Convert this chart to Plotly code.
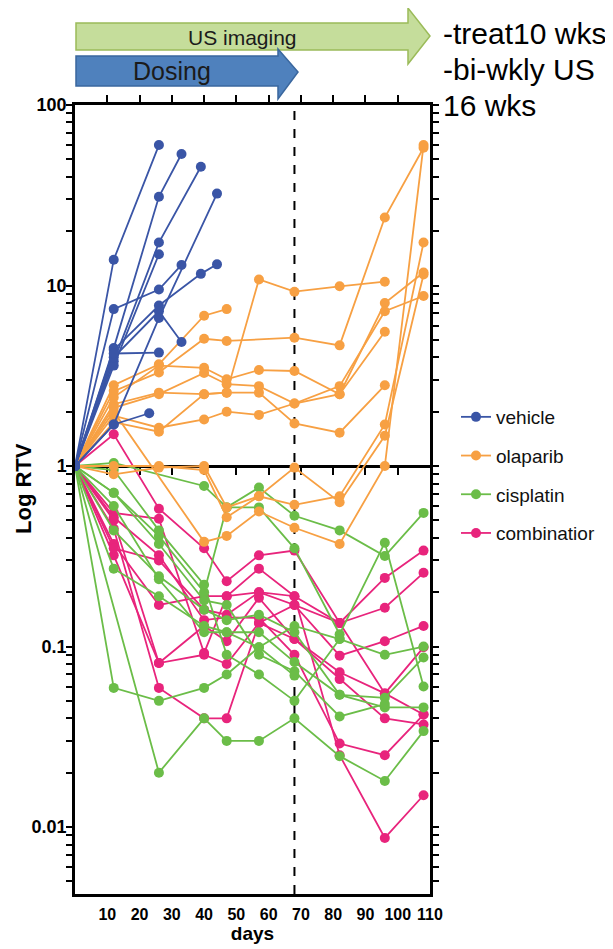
import plotly.graph_objects as go

# ---------------- data ----------------
series_names = ["vehicle", "olaparib", "cisplatin", "combinatior"]
series_colors = ["#3A55A6", "#F7A043", "#6BBD48", "#E8247C"]

vehicle_days = [
    [0, 12, 26], [0, 12, 26, 33], [0, 12, 26, 39], [0, 12, 26],
    [0, 12, 26, 33], [0, 12, 26, 39, 44], [0, 12, 26, 33], [0, 12, 26],
    [0, 12, 23], [0, 12, 26, 44],
]
vehicle_rtv = [
    [1, 13.9, 60], [1, 4.5, 31, 53.5], [1, 3.8, 17.3, 45.5], [1, 3.6, 14.9],
    [1, 7.4, 9.5, 13.0], [1, 4.4, 7.75, 11.6, 13.1], [1, 4.0, 7.2, 4.86], [1, 4.2, 4.25],
    [1, 1.7, 1.96], [1, 1.7, 6.6, 32.3],
]

olaparib_days = [
    [0, 12, 26, 40, 47],
    [0, 12, 26, 40, 47, 68, 82, 96, 108],
    [0, 12, 26, 40, 47, 57, 68, 82, 96, 108],
    [0, 12, 26, 40, 47, 57, 68, 82, 96],
    [0, 12, 26, 40, 47, 57, 68, 82, 96, 108],
    [0, 12, 26, 40, 47, 57, 68, 82, 96],
    [0, 12, 26, 40, 47, 57, 68, 82, 96],
    [0, 12, 26, 40, 47, 57, 68, 82, 96, 108],
    [0, 12, 40, 47, 57, 68, 82, 96, 108],
    [0, 12, 26, 40, 47, 57, 68, 82, 96, 108],
]
olaparib_rtv = [
    [1, 2.8, 3.66, 6.8, 7.4],
    [1, 2.6, 3.3, 5.07, 4.93, 5.14, 4.66, 23.8, 58],
    [1, 2.4, 3.6, 3.5, 3.02, 3.40, 3.36, 2.5, 8.0, 11.8],
    [1, 2.2, 2.55, 2.5, 2.55, 10.8, 9.24, 9.9, 10.5],
    [1, 2.1, 2.5, 3.28, 2.84, 2.77, 2.22, 2.77, 7.2, 8.75],
    [1, 1.9, 1.63, 1.81, 2.0, 1.92, 2.22, 2.5, 5.55],
    [1, 1.75, 1.55, 2.5, 2.55, 2.55, 1.72, 1.53, 2.8],
    [1, 0.9, 0.98, 1.0, 0.59, 0.68, 0.61, 0.68, 1.7, 17.3],
    [1, 2.0, 0.38, 0.41, 0.56, 0.455, 0.37, 1.0, 60],
    [1, 1.0, 1.0, 0.95, 0.52, 0.68, 0.98, 0.63, 1.47, 11.5],
]

cisplatin_days = [
    [0, 12, 40, 47, 57, 68, 82, 96, 108],
    [0, 12, 26, 40, 47, 57, 68, 82, 96, 108],
    [0, 12, 26, 40, 47, 57, 68, 82, 96, 108],
    [0, 26, 40, 47, 57, 68, 82, 96, 108],
    [0, 12, 26, 40, 47, 57, 68, 82, 96, 108],
    [0, 12, 26, 40, 47, 57, 68, 82, 96, 108],
    [0, 12, 26, 40, 47, 57, 68, 82, 96],
    [0, 12, 26, 40, 47, 57, 68, 82],
    [0, 12, 26, 40, 47, 57, 68],
]
cisplatin_rtv = [
    [1, 1.04, 0.775, 0.59, 0.76, 0.53, 0.44, 0.317, 0.55],
    [1, 0.71, 0.41, 0.2, 0.59, 0.59, 0.35, 0.117, 0.376, 0.06],
    [1, 0.059, 0.05, 0.059, 0.07, 0.099, 0.13, 0.11, 0.09, 0.10],
    [1, 0.02, 0.04, 0.03, 0.03, 0.04, 0.0247, 0.018, 0.034],
    [1, 0.27, 0.19, 0.13, 0.12, 0.12, 0.082, 0.054, 0.046, 0.046],
    [1, 0.44, 0.245, 0.16, 0.14, 0.15, 0.12, 0.054, 0.052, 0.087],
    [1, 0.71, 0.37, 0.18, 0.17, 0.09, 0.073, 0.041, 0.048],
    [1, 0.95, 0.44, 0.22, 0.09, 0.07, 0.05, 0.11],
    [1, 0.6, 0.236, 0.12, 0.12, 0.099, 0.069],
]

combination_days = [[0, 12, 26, 40, 47, 57, 68, 82, 96, 108]] * 8
combination_rtv = [
    [1, 1.5, 0.58, 0.35, 0.23, 0.32, 0.34, 0.135, 0.164, 0.256],
    [1, 0.55, 0.51, 0.092, 0.19, 0.27, 0.19, 0.135, 0.24, 0.34],
    [1, 0.37, 0.17, 0.19, 0.19, 0.2, 0.17, 0.089, 0.107, 0.13],
    [1, 0.32, 0.081, 0.13, 0.107, 0.186, 0.11, 0.072, 0.055, 0.042],
    [1, 0.45, 0.059, 0.04, 0.04, 0.135, 0.11, 0.066, 0.04, 0.037],
    [1, 0.52, 0.32, 0.14, 0.145, 0.144, 0.09, 0.029, 0.025, 0.042],
    [1, 0.35, 0.30, 0.16, 0.15, 0.2, 0.19, 0.025, 0.0087, 0.015],
    [1, 0.5, 0.081, 0.09, 0.08, 0.135, 0.17, 0.135, 0.055, 0.099],
]

x_tick_vals = [10, 20, 30, 40, 50, 60, 70, 80, 90, 100, 110]
y_tick_vals = [0.01, 0.1, 1, 10, 100]
y_tick_text = ["0.01", "0.1", "1", "10", "100"]
dosing_end_day = 68
baseline_rtv = 1

# ---------------- figure ----------------
PAGE_OFF = 8                      # default page body margin
W, H = 613 - PAGE_OFF, 949 - PAGE_OFF
L, R, T, B = 75 - PAGE_OFF, 183, 105 - PAGE_OFF, 55
Y_RANGE = [-2.371, 2.0]
FONT = "Liberation Sans, Arial, sans-serif"


def px_x(px):  # page pixel -> paper
    return (px - PAGE_OFF - L) / (W - L - R)


def px_y(py):
    return (H - B - (py - PAGE_OFF)) / (H - T - B)


def flatten(days, vals):
    xs, ys = [], []
    for d, v in zip(days, vals):
        xs += list(d) + [None]
        ys += list(v) + [None]
    return xs, ys


data_sets = {
    "vehicle": (vehicle_days, vehicle_rtv),
    "olaparib": (olaparib_days, olaparib_rtv),
    "cisplatin": (cisplatin_days, cisplatin_rtv),
    "combinatior": (combination_days, combination_rtv),
}

fig = go.Figure()

# invisible helpers so the top axis and the baseline (RTV = 1) axis are drawn
for ax in ["x2", "x3"]:
    fig.add_trace(go.Scatter(x=[0], y=[baseline_rtv], xaxis=ax, yaxis="y", mode="markers",
                             marker=dict(opacity=0), showlegend=False, hoverinfo="skip"))

draw_order = ["combinatior", "cisplatin", "olaparib", "vehicle"]
for name in draw_order:
    i = series_names.index(name)
    xs, ys = flatten(*data_sets[name])
    fig.add_trace(go.Scatter(
        x=xs, y=ys, mode="lines+markers", name=name,
        line=dict(color=series_colors[i], width=1.8),
        marker=dict(color=series_colors[i], size=10, symbol="circle"),
        connectgaps=False, legendgroup=name, legendrank=i + 1,
    ))

minor_vals = []
for dec in [0.001, 0.01, 0.1, 1, 10]:
    minor_vals += [dec * k for k in range(2, 10)]

fig.update_layout(
    width=W, height=H,
    margin=dict(l=L, r=R, t=T, b=B, autoexpand=False),
    paper_bgcolor="white", plot_bgcolor="white",
    showlegend=True,
    legend=dict(
        x=px_x(456), y=px_y(398), xanchor="left", yanchor="top",
        font=dict(family=FONT, size=19, color="#111"),
        traceorder="grouped", tracegroupgap=11, bgcolor="rgba(0,0,0,0)",
        itemwidth=30,
    ),
    xaxis=dict(
        range=[0, 110], showgrid=False, zeroline=False, automargin=False,
        showline=True, linecolor="black", linewidth=2.5, mirror=False,
        ticks="", tickvals=x_tick_vals, ticktext=[str(v) for v in x_tick_vals], tickangle=0,
        tickfont=dict(family=FONT, size=16, color="black", weight="bold"),
        ticklabelstandoff=4,
        title=dict(text="<b>days</b>", font=dict(family=FONT, size=19, color="black"), standoff=2),
    ),
    xaxis2=dict(
        range=[0, 110], overlaying="x", side="top", anchor="y", showgrid=False, zeroline=False,
        showline=True, linecolor="black", linewidth=2.5, automargin=False,
        ticks="outside", ticklen=7, tickwidth=2, tickcolor="black",
        tickvals=x_tick_vals[:-1], showticklabels=False,
    ),
    xaxis3=dict(
        range=[0, 110], overlaying="x", side="bottom", anchor="free",
        position=(0 - Y_RANGE[0]) / (Y_RANGE[1] - Y_RANGE[0]),
        showgrid=False, zeroline=False, automargin=False, layer="below traces",
        showline=True, linecolor="black", linewidth=2.5,
        ticks="outside", ticklen=7, tickwidth=2, tickcolor="black",
        tickvals=x_tick_vals[:-1], showticklabels=False,
    ),
    yaxis=dict(
        type="log", range=Y_RANGE, showgrid=False, zeroline=False, automargin=False,
        showline=True, linecolor="black", linewidth=2.5, mirror="allticks",
        ticks="outside", ticklen=6, tickwidth=2, tickcolor="black",
        tickvals=y_tick_vals, ticktext=y_tick_text,
        tickfont=dict(family=FONT, size=18, color="black", weight="bold"),
        ticklabelstandoff=-4,
        minor=dict(tickvals=minor_vals, ticks="outside", ticklen=4, tickwidth=1.5, tickcolor="black"),
    ),
)

# y-axis title placed like the reference (slightly above the plot centre)
fig.add_annotation(xref="paper", yref="paper", x=px_x(23), y=px_y(489), text="<b>Log RTV</b>",
                   textangle=-90, showarrow=False, xanchor="center", yanchor="middle",
                   font=dict(family=FONT, size=22, color="black"))

# dashed line at end of dosing
fig.add_shape(type="line", xref="x", yref="paper", x0=dosing_end_day, x1=dosing_end_day, y0=0, y1=1,
              line=dict(color="black", width=2, dash="dash"), layer="below")


def arrow_path(x0, x1, xt, by0, by1, hy0, hy1, ty):
    pts = [(x0, by0), (x1, by0), (x1, hy0), (xt, ty), (x1, hy1), (x1, by1), (x0, by1)]
    return "M " + " L ".join(f"{px_x(a):.4f},{px_y(b):.4f}" for a, b in pts) + " Z"


fig.add_shape(type="path", xref="paper", yref="paper",
              path=arrow_path(76, 408, 430, 23, 50, 8, 64, 36),
              fillcolor="#C5DD9B", line=dict(color="#9BBB59", width=1.5), layer="above")
fig.add_shape(type="path", xref="paper", yref="paper",
              path=arrow_path(76, 278, 298, 56, 86, 49, 99, 72),
              fillcolor="#4F81BD", line=dict(color="#3A679E", width=1.5), layer="above")

fig.add_annotation(xref="paper", yref="paper", x=px_x(242), y=px_y(37), text="US imaging", showarrow=False,
                   xanchor="center", yanchor="middle",
                   font=dict(family=FONT, size=21, color="#1b1b1b"))
fig.add_annotation(xref="paper", yref="paper", x=px_x(172), y=px_y(71), text="Dosing", showarrow=False,
                   xanchor="center", yanchor="middle",
                   font=dict(family=FONT, size=25, color="#1b1b1b"))

for txt, yc in [("-treat10 wks", 33), ("-bi-wkly US", 69), ("16 wks", 105)]:
    fig.add_annotation(xref="paper", yref="paper", x=px_x(441), y=px_y(yc), text=txt, showarrow=False,
                       xanchor="left", yanchor="middle",
                       font=dict(family=FONT, size=30, color="black"))

fig.write_html("out.html")
